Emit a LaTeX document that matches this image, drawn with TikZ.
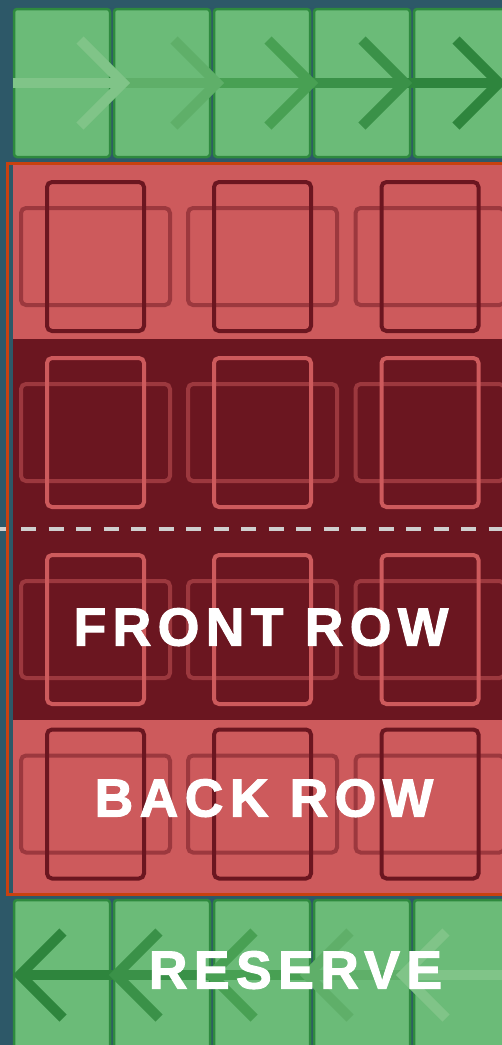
\documentclass[tikz,border=0pt]{standalone}
\usepackage{fontspec}
\usepackage{tikz}
\usetikzlibrary{positioning, calc}
\newfontfamily\rowfont[LetterSpace=12, FakeBold=2]{Liberation Sans}
\definecolor{boardBg}  {HTML}{2D5868}
\definecolor{tileFill} {HTML}{6BBB78}
\definecolor{tileEdge} {HTML}{2E8A3E}
\definecolor{zoneLight}{HTML}{CD5A5C}
\definecolor{zoneDark} {HTML}{6B1620}
\definecolor{zoneEdge} {HTML}{C8410F}
\definecolor{cardMid}  {HTML}{9C383E}
\definecolor{lineGrey} {HTML}{CFCFCF}
\definecolor{arrowA}   {HTML}{80C488}
\definecolor{arrowB}   {HTML}{5FAF69}
\definecolor{arrowC}   {HTML}{48A053}
\definecolor{arrowD}   {HTML}{3A9148}
\definecolor{arrowE}   {HTML}{2E853D}

\begin{document}
\begin{tikzpicture}[x=1pt, y=-1pt,
    tile/.style={draw=tileEdge, fill=tileFill, line width=2.5pt, rounded corners=3pt},
    cardwide/.style={draw=cardMid, line width=4pt, rounded corners=5pt},
    cardtall/.style={line width=4pt, rounded corners=5pt},
    flow/.style={line width=10pt},
    rowlabel/.style={font=\rowfont\bfseries\fontsize{53.5}{60}\selectfont,
                     text=white, anchor=base, inner sep=0pt}]
  \clip (0,0) rectangle (502,1045);
  \fill[boardBg] (0,0) rectangle (502,1045);

  % deck and reserve tiles
  \foreach \i in {0,...,4}{
    \draw[tile] ({14+100*\i}, 9) rectangle ({110+100*\i}, 157);
    \draw[tile] ({14+100*\i}, 900) rectangle ({110+100*\i}, 1060);
  }

  % top arrows, pointing right
  \coordinate (top0) at (13,83);
  \foreach \n/\x in {1/123, 2/217, 3/311, 4/405, 5/499}
    \coordinate (top\n) at (\x,83);
  \foreach \p/\n/\c in {0/1/arrowA, 1/2/arrowB, 2/3/arrowC, 3/4/arrowD, 4/5/arrowE}
    \draw[flow, draw=\c] (top\p) -- (top\n);
  \foreach \n/\c in {1/arrowA, 2/arrowB, 3/arrowC, 4/arrowD, 5/arrowE}
    \draw[flow, draw=\c] ($(top\n)+(-43,-43)$) -- (top\n) -- ($(top\n)+(-43,43)$);

  % bottom arrows, pointing left
  \foreach \n/\x in {1/20, 2/116, 3/211, 4/307, 5/403, 6/510}
    \coordinate (bot\n) at (\x,975);
  \foreach \n/\m/\c in {1/2/arrowE, 2/3/arrowD, 3/4/arrowC, 4/5/arrowB, 5/6/arrowA}
    \draw[flow, draw=\c] (bot\n) -- (bot\m);
  \foreach \n/\c in {1/arrowE, 2/arrowD, 3/arrowC, 4/arrowB, 5/arrowA}
    \draw[flow, draw=\c] ($(bot\n)+(43,-43)$) -- (bot\n) -- ($(bot\n)+(43,43)$);

  % battle zone
  \fill[zoneLight] (13,165) rectangle (510,893);
  \fill[zoneDark] (13,339) rectangle (510,720);
  \foreach \y/\c in {256.5/zoneDark, 432.5/zoneLight, 629.5/zoneLight, 804/zoneDark}{
    \foreach \x in {95.5, 262.5, 430}{
      \draw[cardwide] ({\x-74.5},{\y-48.5}) rectangle ({\x+74.5},{\y+48.5});
      \draw[cardtall, draw=\c] ({\x-48.5},{\y-74.5}) rectangle ({\x+48.5},{\y+74.5});
    }
  }
  \draw[lineGrey, line width=3.5pt, dash pattern=on 15pt off 12.5pt, dash phase=6.5pt]
    (0,529) -- (510,529);
  \draw[zoneEdge, line width=3pt] (7.5,163.5) rectangle (520,894.5);

  \node[rowlabel] (front) at (261,645.5) {FRONT ROW};
  \node[rowlabel] (back) at (264,816.5) {BACK ROW};
  \node[rowlabel] (reserve) at (295.5,988.5) {RESERVE};
\end{tikzpicture}
\end{document}
